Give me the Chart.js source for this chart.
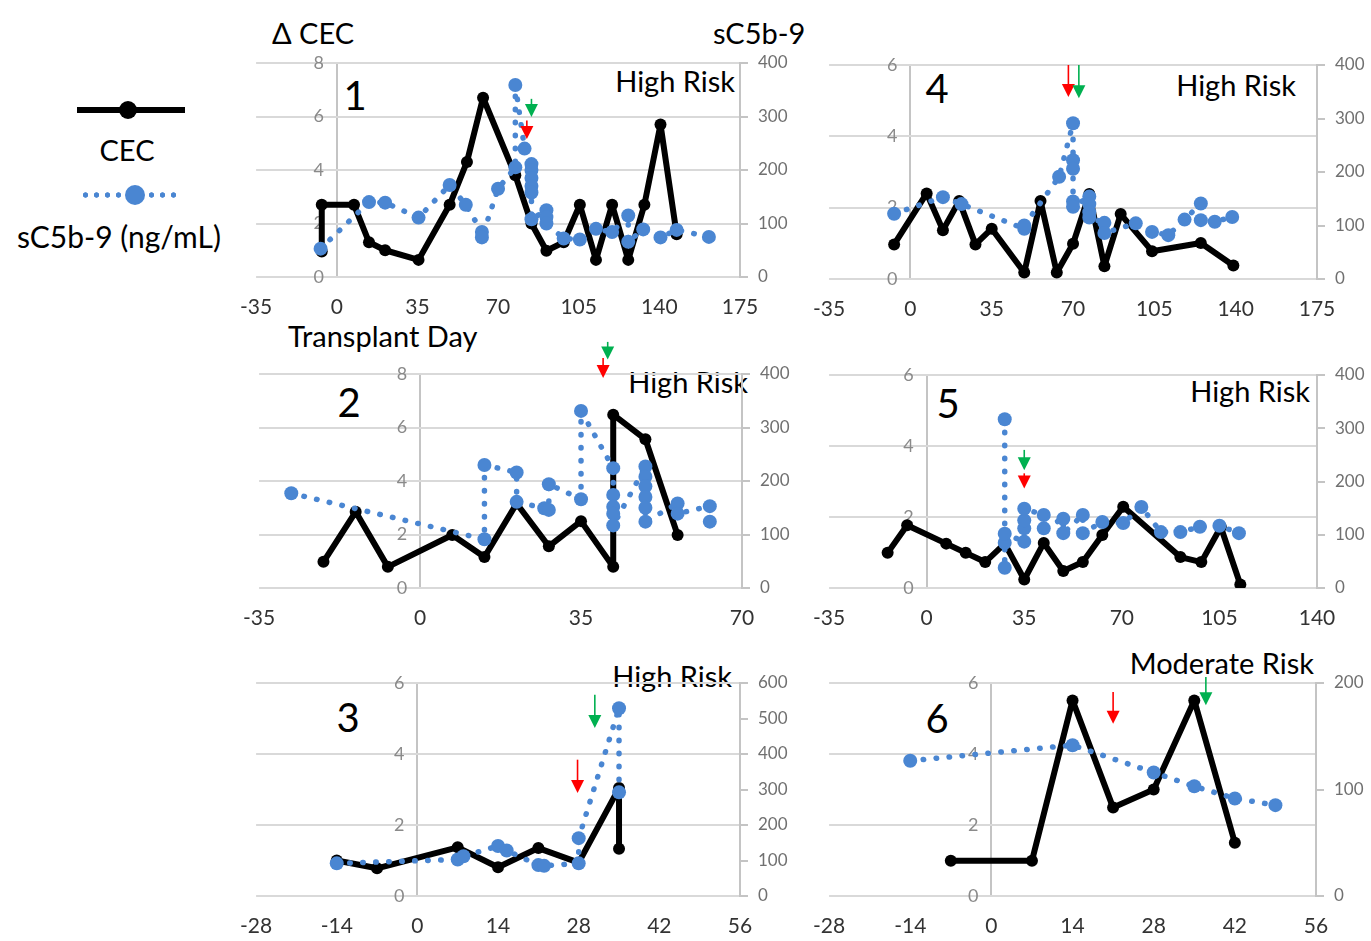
<!DOCTYPE html>
<html lang="en">
<head>
<meta charset="UTF-8">
<title>CEC and sC5b-9 by transplant day</title>
<script src="https://cdn.jsdelivr.net/npm/chart.js"></script>
<style>
  body { margin: 0; background: #fff; font-family: Lato, sans-serif; }
  #page { position: relative; width: 1371px; height: 941px; overflow: hidden; }
  canvas { position: absolute; }
  .t { position: absolute; white-space: nowrap; color: #000; font-size: 29px; line-height: 1; transform: translateY(-50%); }
  .c { transform: translate(-50%, -50%); }
  .r { transform: translate(-100%, -50%); }
  .num { font-size: 40px; }
  .sym { position: absolute; }
</style>
</head>
<body>
<div id="page">
  <!-- legend -->
  <div class="sym" style="left:77px; top:107px; width:108px; height:6px; background:#000;"></div>
  <div class="sym" style="left:119px; top:101px; width:18px; height:18px; border-radius:50%; background:#000;"></div>
  <div class="t c" style="left:127px; top:149px;">CEC</div>
  <div class="sym" id="legDots" style="left:80px; top:192px; width:102px; height:6px;"></div>
  <div class="sym" id="legMark" style="left:125px; top:185px; width:20px; height:20px; border-radius:50%;"></div>
  <div class="t c" style="left:119px; top:236px; font-size:30px;">sC5b-9 (ng/mL)</div>

  <div class="t" style="left:272px; top:32px;">Δ CEC</div>
  <div class="t" style="left:713px; top:32px;">sC5b-9</div>
  <div class="t" style="left:288px; top:335px;">Transplant Day</div>

  <div class="t c num" style="left:355px; top:95px;">1</div>
  <div class="t c num" style="left:937px; top:88px;">4</div>
  <div class="t c num" style="left:349px; top:402px;">2</div>
  <div class="t c num" style="left:948px; top:403px;">5</div>
  <div class="t c num" style="left:348px; top:717px;">3</div>
  <div class="t c num" style="left:937px; top:718px;">6</div>

  <div class="t r" style="left:735px; top:80px;">High Risk</div>
  <div class="t r" style="left:1296px; top:84px;">High Risk</div>
  <div class="t r" style="left:748px; top:381px;">High Risk</div>
  <div class="t r" style="left:1310px; top:390px;">High Risk</div>
  <div class="t r" style="left:732px; top:675px;">High Risk</div>
  <div class="t r" style="left:1314px; top:662px;">Moderate Risk</div>

  <canvas id="p1"></canvas>
  <canvas id="p2"></canvas>
  <canvas id="p3"></canvas>
  <canvas id="p4"></canvas>
  <canvas id="p5"></canvas>
  <canvas id="p6"></canvas>
</div>

<script>
  // patient 1
  const cec1Day = [-6.5, -6.5, 7.5, 14, 21, 35.5, 49, 56.5, 63.5, 77.5, 84.5, 91, 98.5, 105.5, 112.5, 119.5, 126.5, 133.5, 140.5, 147.5];
  const cec1Val = [0.95, 2.7, 2.7, 1.3, 1.0, 0.64, 2.7, 4.3, 6.7, 3.8, 2.0, 0.98, 1.3, 2.7, 0.64, 2.7, 0.64, 2.7, 5.7, 1.6];
  const sc1Day = [-7, 14, 21, 35.5, 49, 56, 63, 63, 70, 77.5, 77.5, 81.5, 84.5, 84.5, 84.5, 84.5, 84.5, 84.5, 91, 91, 91, 98.5, 105.5, 112.5, 119.5, 126.5, 126.5, 133, 140.5, 147.5, 161.5];
  const sc1Val = [53, 140, 139, 111, 172, 135, 84, 74, 165, 205, 359, 240, 211, 200, 185, 170, 158, 108, 125, 112, 100, 72, 70, 90, 84, 115, 66, 89, 74, 88, 75];
  const red1 = [82.5, 5.85, 5.16];
  const green1 = [84.5, 6.66, 5.98];

  // patient 2
  const cec2Day = [-21, -14, -7, 7, 14, 21, 28, 35, 42, 42, 49, 56];
  const cec2Val = [0.98, 2.85, 0.79, 1.98, 1.16, 3.16, 1.56, 2.5, 0.79, 6.48, 5.56, 1.98];
  const sc2Day = [-28, 14, 14, 21, 21, 27, 28, 28, 35, 35, 42, 42, 42, 42, 42, 49, 49, 49, 49, 49, 49, 56, 56, 63, 63];
  const sc2Val = [177, 91, 230, 216, 161, 149, 146, 194, 166, 331, 224, 174, 152, 139, 117, 227, 208, 190, 170, 150, 124, 158, 139, 153, 124];
  const red2 = [39.8, 8.6, 7.85];
  const green2 = [40.8, 9.2, 8.54];

  // patient 3
  const cec3Day = [-14, -7, 7, 14, 21, 28, 35, 35];
  const cec3Val = [1.0, 0.78, 1.37, 0.81, 1.35, 0.94, 3.04, 1.33];
  const sc3Day = [-14, 7, 8, 14, 15.5, 21, 22, 28, 28, 35, 35];
  const sc3Val = [92, 103, 112, 141, 128, 87, 85, 92, 163, 529, 292];
  const red3 = [27.8, 3.84, 2.9];
  const green3 = [30.8, 5.67, 4.73];

  // patient 4
  const cec4Day = [-7, 7, 14, 21, 28, 35, 49, 56, 63, 70, 77, 83.5, 90.5, 104, 125, 139];
  const cec4Val = [0.97, 2.4, 1.37, 2.19, 0.97, 1.41, 0.18, 2.19, 0.18, 0.99, 2.38, 0.36, 1.82, 0.78, 1.01, 0.38];
  const sc4Day = [-7, 14, 22, 49, 49, 64, 70, 70, 70, 70, 70, 77, 77, 77, 77, 83.5, 83.5, 97, 104, 111, 118, 125, 125, 131, 138.5];
  const sc4Val = [122, 153, 140, 94, 100, 191, 291, 222, 206, 145, 135, 154, 140, 125, 115, 105, 86, 104, 88, 82, 111, 141, 110, 107, 116];
  const red4 = [68, 6.0, 5.1];
  const green4 = [72.5, 6.0, 5.07];

  // patient 5
  const cec5Day = [-14, -7, 7, 14, 21, 28, 35, 42, 49, 56, 63, 70.5, 91, 98.5, 105.5, 112.5];
  const cec5Val = [0.99, 1.77, 1.25, 0.99, 0.73, 1.25, 0.24, 1.27, 0.48, 0.73, 1.49, 2.29, 0.87, 0.73, 1.72, 0.10];
  const sc5Day = [28, 28, 28, 28, 35, 35, 35, 35, 42, 42, 49, 49, 56, 56, 63, 70.5, 77, 84, 91, 98, 105, 112];
  const sc5Val = [317, 38, 85, 102, 87, 112, 127, 149, 137, 112, 130, 103, 137, 103, 124, 122, 152, 105, 105, 115, 117, 103];
  const red5 = [35, 3.23, 2.8];
  const green5 = [35, 3.89, 3.32];

  // patient 6
  const cec6Day = [-7, 7, 14, 21, 28, 35, 42];
  const cec6Val = [0.99, 0.99, 5.51, 2.49, 3.0, 5.51, 1.5];
  const sc6Day = [-14, 14, 28, 35, 42, 49];
  const sc6Val = [127, 141.6, 116, 103, 91.6, 85.3];
  const red6 = [21, 5.75, 4.85];
  const green6 = [37, 6.17, 5.37];

  // axis ranges: [min, max, step]
  const xWide = [-35, 175, 35];
  const xMid = [-35, 140, 35];
  const xShort = [-35, 70, 35];
  const xWeeks = [-28, 56, 14];
  const cec8 = [0, 8, 2];
  const cec6 = [0, 6, 2];
  const sc400 = [0, 400, 100];
  const sc600 = [0, 600, 100];
  const sc200 = [0, 200, 100];

  const BLUE = '#4a86d2';
  const RED = '#ff0000';
  const GREEN = '#00b050';
  const AXIS_GREY = '#c4c4c4';
  Chart.defaults.font.family = 'Lato, sans-serif';

  const PAD_L = 30, PAD_T = 50, RIGHT_W = 70, BOTTOM_H = 50;
  const LABEL_GAP = 13; // px between left tick labels and the day-0 axis

  const arrowPlugin = {
    id: 'doseArrows',
    afterDatasetsDraw(chart, args, opts) {
      const { ctx, scales } = chart;
      (opts.list || []).forEach(a => {
        const x = scales.x.getPixelForValue(a.at[0]);
        const y1 = scales.y.getPixelForValue(a.at[1]);
        const y2 = scales.y.getPixelForValue(a.at[2]);
        ctx.save();
        ctx.strokeStyle = a.color;
        ctx.fillStyle = a.color;
        ctx.lineWidth = 1.6;
        ctx.beginPath();
        ctx.moveTo(x, y1);
        ctx.lineTo(x, y2 - 10);
        ctx.stroke();
        ctx.beginPath();
        ctx.moveTo(x - 6.5, y2 - 13);
        ctx.lineTo(x + 6.5, y2 - 13);
        ctx.lineTo(x, y2);
        ctx.closePath();
        ctx.fill();
        ctx.restore();
      });
    }
  };

  const pts = (days, vals) => days.map((d, i) => ({ x: d, y: vals[i] }));

  function panel(id, box, cecDay, cecVal, scDay, scVal, xr, yl, yr, red, green) {
    const [L, T, R, B] = box;
    const cv = document.getElementById(id);
    cv.width = (R - L) + PAD_L + RIGHT_W;
    cv.height = (B - T) + PAD_T + BOTTOM_H;
    cv.style.left = (L - PAD_L) + 'px';
    cv.style.top = (T - PAD_T) + 'px';
    // the left labels sit a little left of day 0, like Excel's crossing axis
    const labelAt = -LABEL_GAP * (xr[1] - xr[0]) / (R - L);

    new Chart(cv, {
      type: 'scatter',
      data: {
        datasets: [
          {
            label: 'CEC',
            data: pts(cecDay, cecVal),
            yAxisID: 'y',
            showLine: true,
            borderColor: '#000',
            backgroundColor: '#000',
            borderWidth: 6,
            borderJoinStyle: 'round',
            pointRadius: 6,
            pointBorderWidth: 0,
            order: 2
          },
          {
            label: 'sC5b-9 (ng/mL)',
            data: pts(scDay, scVal),
            yAxisID: 'y2',
            showLine: true,
            borderColor: BLUE,
            backgroundColor: BLUE,
            borderWidth: 5.5,
            borderDash: [0.5, 12.5],
            borderCapStyle: 'round',
            pointRadius: 7,
            pointBorderWidth: 0,
            order: 1
          }
        ]
      },
      options: {
        responsive: false,
        animation: false,
        devicePixelRatio: 1,
        layout: { padding: { left: PAD_L, top: PAD_T, right: 0, bottom: 0 } },
        plugins: {
          legend: { display: false },
          tooltip: { enabled: false },
          doseArrows: { list: [{ at: red, color: RED }, { at: green, color: GREEN }] }
        },
        scales: {
          x: {
            type: 'linear',
            min: xr[0], max: xr[1],
            ticks: { stepSize: xr[2], color: '#333', font: { size: 21 }, padding: 18 },
            grid: {
              drawTicks: false,
              lineWidth: 2,
              color: c => (c.tick && c.tick.value === 0 ? AXIS_GREY : 'rgba(0,0,0,0)')
            },
            border: { display: false },
            afterFit(s) { s.height = BOTTOM_H; }
          },
          y: {
            position: { x: labelAt },
            min: yl[0], max: yl[1],
            ticks: { stepSize: yl[2], color: '#8a8a8a', font: { size: 18 } },
            grid: { color: '#d9d9d9', lineWidth: 2, drawTicks: false },
            border: { display: false }
          },
          y2: {
            position: 'right',
            min: yr[0], max: yr[1],
            ticks: { stepSize: yr[2], color: '#707070', font: { size: 17 }, padding: 10 },
            grid: { drawOnChartArea: false, color: AXIS_GREY, lineWidth: 2, tickLength: 8 },
            border: { color: AXIS_GREY, width: 2 },
            afterFit(s) { s.width = RIGHT_W; }
          }
        }
      },
      plugins: [arrowPlugin]
    });
  }

  panel('p1', [252, 63, 740, 277], cec1Day, cec1Val, sc1Day, sc1Val, xWide, cec8, sc400, red1, green1);
  panel('p4', [825, 65, 1317, 279], cec4Day, cec4Val, sc4Day, sc4Val, xWide, cec6, sc400, red4, green4);
  panel('p2', [255, 374, 742, 588], cec2Day, cec2Val, sc2Day, sc2Val, xShort, cec8, sc400, red2, green2);
  panel('p5', [825, 375, 1317, 588], cec5Day, cec5Val, sc5Day, sc5Val, xMid, cec6, sc400, red5, green5);
  panel('p3', [252, 683, 740, 896], cec3Day, cec3Val, sc3Day, sc3Val, xWeeks, cec6, sc600, red3, green3);
  panel('p6', [825, 683, 1316, 896], cec6Day, cec6Val, sc6Day, sc6Val, xWeeks, cec6, sc200, red6, green6);

  document.getElementById('legMark').style.background = BLUE;
  document.getElementById('legDots').style.background =
    'radial-gradient(circle, ' + BLUE + ' 2.4px, transparent 3px) 0 0 / 11px 6px repeat-x';
</script>
</body>
</html>
